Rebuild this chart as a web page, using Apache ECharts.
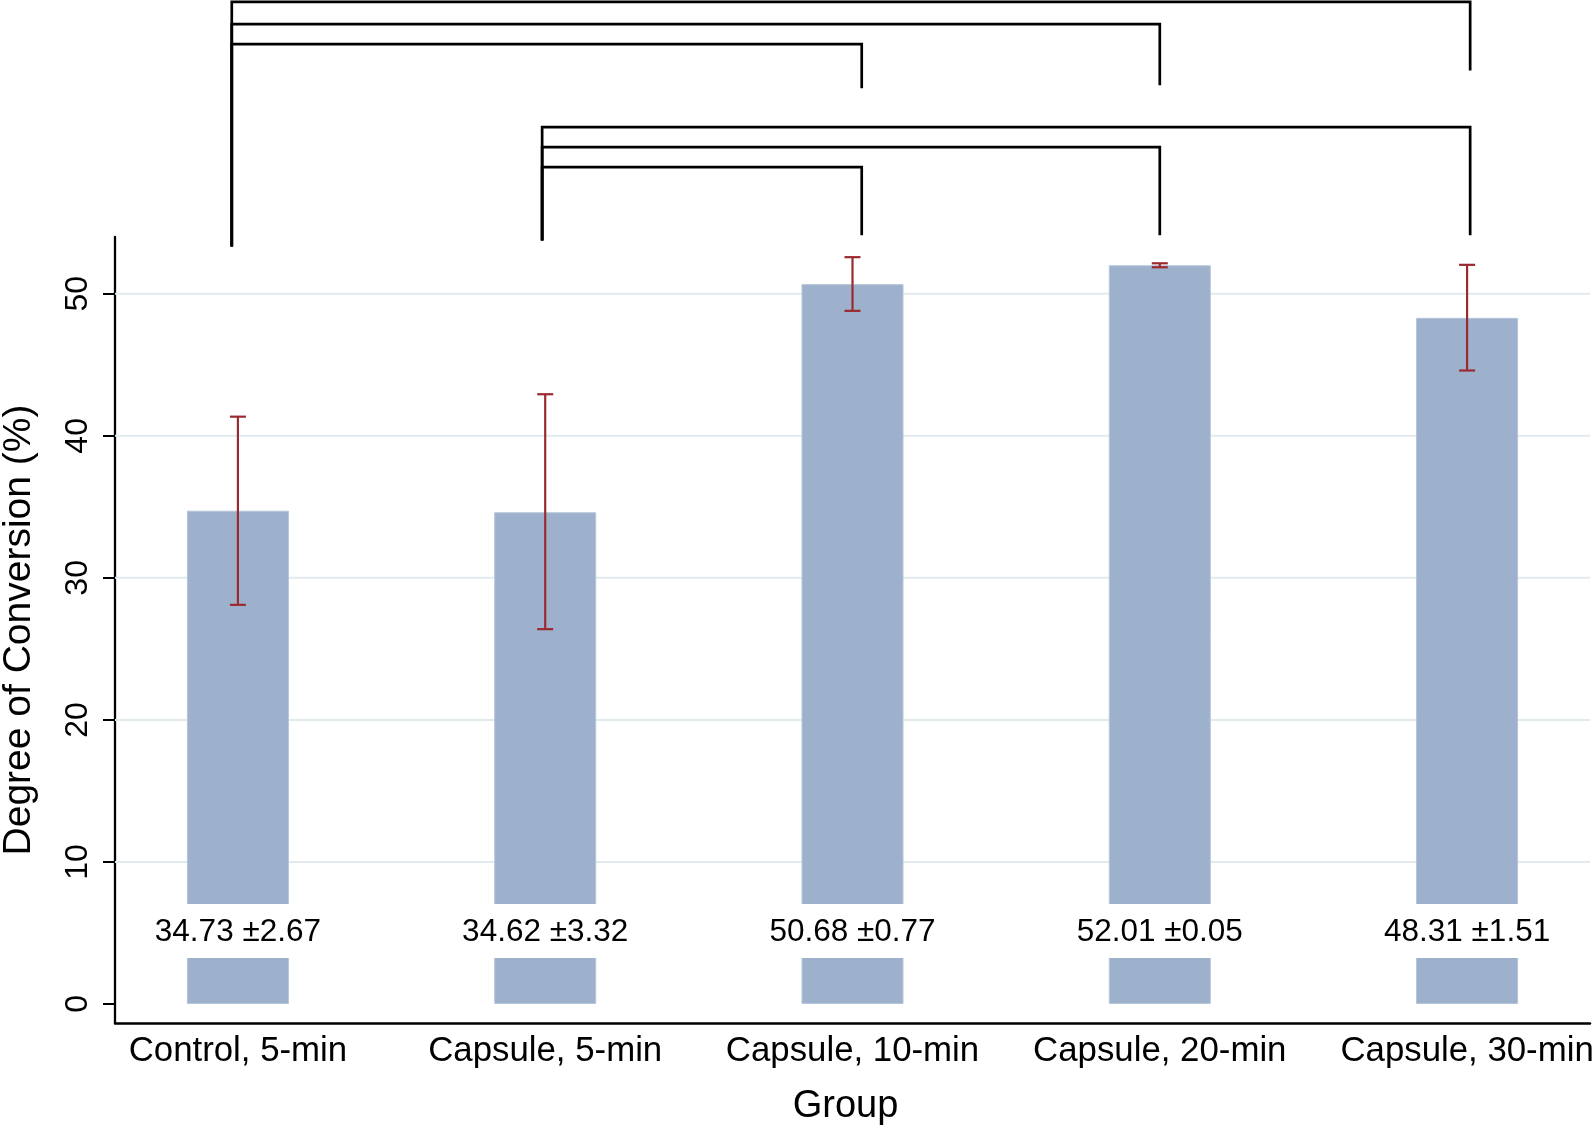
<!DOCTYPE html>
<html><head><meta charset="utf-8">
<script src="https://cdn.jsdelivr.net/npm/echarts@6/dist/echarts.min.js"></script>
<style>html,body{margin:0;padding:0;background:#fff}#c{width:1594px;height:1127px}</style>
</head><body><div id="c"></div>
<script>
// ---- data ----
const categories = ['Control, 5-min', 'Capsule, 5-min', 'Capsule, 10-min', 'Capsule, 20-min', 'Capsule, 30-min'];
const means = [34.73, 34.62, 50.68, 52.01, 48.31];
const sds = [2.67, 3.32, 0.77, 0.05, 1.51];
const ciLow = [28.10, 26.39, 48.80, 51.87, 44.60];
const ciHigh = [41.35, 42.93, 52.58, 52.15, 52.04];
const yTicks = [0, 10, 20, 30, 40, 50];
// significance brackets (category index from/to, heights in axis units)
const bracketFrom = [0, 0, 0, 1, 1, 1];
const bracketTo = [2, 3, 4, 2, 3, 4];
const bracketLevel = [67.58, 68.99, 70.56, 58.92, 60.33, 61.74];
const bracketFromEnd = [53.33, 53.33, 53.33, 53.75, 53.75, 53.75];
const bracketToEnd = [64.48, 64.69, 65.73, 54.12, 54.12, 54.12];
const bracketAnchor = [0.98, 1.99, 3.03, 4.00, 5.01];

// ---- layout ----
const W = 1594, H = 1127;
const gridLeft = 115, gridRight = 4, gridBottom = 104, mainTop = 237;
const xMin = 0.6, xMax = 5.4, yMin = -1.34, yMax = 54.0;
const pxPerUnit = (H - gridBottom - mainTop) / (yMax - yMin);
const overlayMax = yMin + (H - gridBottom) / pxPerUnit;
const FONT = "'Liberation Sans', Arial, Helvetica, sans-serif";
const barColor = '#9db1cc';
const errColor = '#9b2a30';

const chart = echarts.init(document.getElementById('c'), null, {renderer: 'canvas'});
const option = {
  backgroundColor: '#fff',
  animation: false,
  textStyle: {fontFamily: FONT},
  grid: [
    {left: gridLeft, right: gridRight, top: mainTop, bottom: gridBottom, containLabel: false, outerBoundsMode: 'none'},
    {left: gridLeft, right: gridRight, top: 0, bottom: gridBottom, containLabel: false, outerBoundsMode: 'none'}
  ],
  xAxis: [
    {
      type: 'value', gridIndex: 0, min: xMin, max: xMax,
      name: 'Group', nameLocation: 'middle', nameGap: 65,
      nameTextStyle: {fontSize: 38, color: '#000', fontFamily: FONT, padding: [0, 14, 0, 0]},
      axisLine: {onZero: false, lineStyle: {color: '#000', width: 2.5}},
      axisTick: {show: false},
      splitLine: {show: false},
      axisLabel: {
        customValues: categories.map((c, i) => i + 1),
        formatter: v => categories[Math.round(v) - 1],
        fontSize: 34.8, color: '#000', margin: 11, fontFamily: FONT
      }
    },
    {type: 'value', gridIndex: 1, min: xMin, max: xMax, show: false}
  ],
  yAxis: [
    {
      type: 'value', gridIndex: 0, min: yMin, max: yMax,
      name: 'Degree of Conversion (%)', nameLocation: 'middle', nameGap: 76,
      nameTextStyle: {fontSize: 39, color: '#000', fontFamily: FONT},
      axisLine: {show: true, onZero: false, lineStyle: {color: '#000', width: 2.3}},
      axisTick: {show: true, customValues: yTicks, length: 12, lineStyle: {color: '#000', width: 2}},
      splitLine: {show: false},
      axisLabel: {customValues: yTicks, rotate: 90, margin: 21, fontSize: 32, color: '#000', fontFamily: FONT}
    },
    {type: 'value', gridIndex: 1, min: yMin, max: overlayMax, show: false}
  ],
  series: [
    {
      type: 'custom', name: 'grid', xAxisIndex: 0, yAxisIndex: 0, z: 1, silent: true,
      data: yTicks.filter(v => v > 0).map(v => [xMin, v]),
      renderItem: (params, api) => {
        const cs = params.coordSys;
        const y = api.coord([xMin, api.value(1)])[1];
        return {type: 'line', shape: {x1: cs.x, y1: y, x2: cs.x + cs.width, y2: y},
          style: {stroke: '#e1ebee', lineWidth: 2}};
      }
    },
    {
      type: 'bar', name: 'mean', xAxisIndex: 0, yAxisIndex: 0, z: 2, barWidth: 102,
      data: means.map((m, i) => [i + 1, m]),
      itemStyle: {color: barColor, borderColor: '#b5c5d9', borderWidth: 1}
    },
    {
      type: 'custom', name: 'labels', xAxisIndex: 0, yAxisIndex: 0, z: 3, silent: true,
      data: means.map((m, i) => [i + 1, m, sds[i]]),
      renderItem: (params, api) => {
        const x = api.value(0);
        const cx = api.coord([x, 0])[0];
        const yTop = api.coord([x, 7.04])[1];
        const yBot = api.coord([x, 3.24])[1];
        const txt = api.value(1).toFixed(2) + ' \u00b1' + api.value(2).toFixed(2);
        return {type: 'group', children: [
          {type: 'rect', shape: {x: cx - 56, y: yTop, width: 112, height: yBot - yTop}, style: {fill: '#fff'}},
          {type: 'text', x: cx, y: (yTop + yBot) / 2 + 1,
            style: {text: txt, fill: '#000', font: '31.5px ' + FONT, align: 'center', verticalAlign: 'middle'}}
        ]};
      }
    },
    {
      type: 'custom', name: 'ci', xAxisIndex: 0, yAxisIndex: 0, z: 4, silent: true,
      data: ciLow.map((lo, i) => [i + 1, lo, ciHigh[i]]),
      renderItem: (params, api) => {
        const x = api.value(0);
        const lo = api.coord([x, api.value(1)]);
        const hi = api.coord([x, api.value(2)]);
        const st = {stroke: errColor, lineWidth: 2.2};
        return {type: 'group', children: [
          {type: 'line', shape: {x1: lo[0], y1: lo[1], x2: hi[0], y2: hi[1]}, style: st},
          {type: 'line', shape: {x1: lo[0] - 8, y1: lo[1], x2: lo[0] + 8, y2: lo[1]}, style: st},
          {type: 'line', shape: {x1: hi[0] - 8, y1: hi[1], x2: hi[0] + 8, y2: hi[1]}, style: st}
        ]};
      }
    },
    {
      type: 'custom', name: 'brackets', xAxisIndex: 1, yAxisIndex: 1, z: 5, silent: true, clip: false,
      data: bracketFrom.map((f, i) => [bracketAnchor[f], bracketLevel[i], bracketAnchor[bracketTo[i]], bracketFromEnd[i], bracketToEnd[i]]),
      renderItem: (params, api) => {
        const x1 = api.value(0), lv = api.value(1), x2 = api.value(2);
        const pts = [
          api.coord([x1, api.value(3)]),
          api.coord([x1, lv]),
          api.coord([x2, lv]),
          api.coord([x2, api.value(4)])
        ];
        return {type: 'polyline', shape: {points: pts},
          style: {stroke: '#000', lineWidth: 2.7, fill: null, lineJoin: 'miter', lineCap: 'butt'}};
      }
    }
  ]
};
chart.setOption(option);
</script>
</body></html>
